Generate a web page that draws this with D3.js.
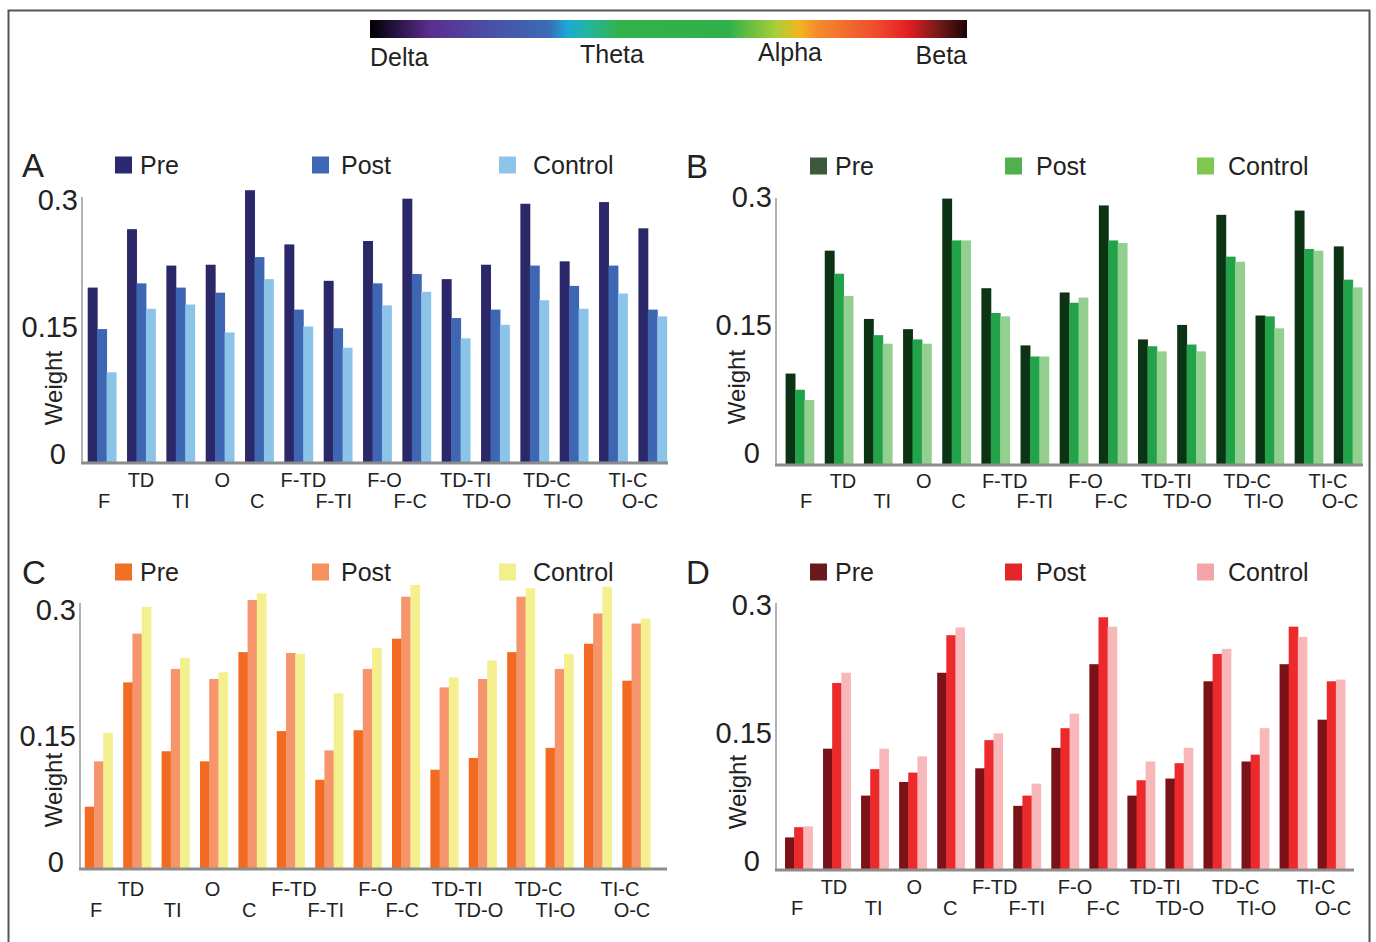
<!DOCTYPE html>
<html>
<head>
<meta charset="utf-8">
<script src="https://cdn.jsdelivr.net/npm/d3@7"></script>
<style>
  body { margin: 0; background: #fff; }
  text { font-family: "Liberation Sans", Arial, sans-serif; fill: #222; }
</style>
</head>
<body>
<div id="chart"></div>
<script>
// Connection regions on the x axis (staggered on two rows)
const regions = ["F", "TD", "TI", "O", "C", "F-TD", "F-TI", "F-O", "F-C", "TD-TI", "TD-O", "TD-C", "TI-O", "TI-C", "O-C"];
const seriesNames = ["Pre", "Post", "Control"];
const yTicks = [0, 0.15, 0.3];
const bandNames = ["Delta", "Theta", "Alpha", "Beta"];

// Delta band (panel A)
const deltaPre     = [0.206, 0.275, 0.232, 0.233, 0.321, 0.257, 0.214, 0.261, 0.311, 0.216, 0.233, 0.305, 0.237, 0.307, 0.276];
const deltaPost    = [0.157, 0.211, 0.206, 0.200, 0.242, 0.180, 0.158, 0.211, 0.222, 0.170, 0.180, 0.232, 0.208, 0.232, 0.180];
const deltaControl = [0.106, 0.181, 0.186, 0.153, 0.216, 0.160, 0.135, 0.185, 0.201, 0.146, 0.162, 0.191, 0.181, 0.199, 0.172];

// Theta band (panel B)
const thetaPre     = [0.106, 0.250, 0.170, 0.158, 0.311, 0.206, 0.139, 0.201, 0.303, 0.146, 0.163, 0.292, 0.174, 0.297, 0.255];
const thetaPost    = [0.087, 0.223, 0.151, 0.146, 0.262, 0.177, 0.126, 0.189, 0.262, 0.138, 0.140, 0.243, 0.173, 0.252, 0.216];
const thetaControl = [0.075, 0.197, 0.141, 0.141, 0.262, 0.173, 0.126, 0.195, 0.259, 0.132, 0.132, 0.237, 0.159, 0.250, 0.207];

// Alpha band (panel C)
const alphaPre     = [0.073, 0.221, 0.139, 0.127, 0.257, 0.163, 0.105, 0.164, 0.273, 0.117, 0.131, 0.257, 0.143, 0.267, 0.223];
const alphaPost    = [0.127, 0.279, 0.237, 0.225, 0.319, 0.256, 0.140, 0.237, 0.323, 0.215, 0.225, 0.323, 0.237, 0.303, 0.291];
const alphaControl = [0.161, 0.311, 0.250, 0.233, 0.327, 0.255, 0.208, 0.262, 0.337, 0.227, 0.247, 0.333, 0.255, 0.335, 0.297];

// Beta band (panel D)
const betaPre      = [0.037, 0.141, 0.086, 0.102, 0.230, 0.118, 0.074, 0.142, 0.240, 0.086, 0.106, 0.220, 0.126, 0.240, 0.175];
const betaPost     = [0.049, 0.218, 0.117, 0.113, 0.274, 0.151, 0.086, 0.165, 0.295, 0.104, 0.124, 0.252, 0.134, 0.284, 0.220];
const betaControl  = [0.050, 0.230, 0.141, 0.132, 0.283, 0.159, 0.100, 0.182, 0.284, 0.126, 0.142, 0.258, 0.165, 0.272, 0.222];

const width = 1376, height = 942;
const svg = d3.select("#chart").append("svg")
  .attr("width", width)
  .attr("height", height);

// outer frame
svg.append("rect")
  .attr("x", 8.5).attr("y", 10.5)
  .attr("width", 1361).attr("height", 960)
  .attr("fill", "none").attr("stroke", "#555").attr("stroke-width", 2);

// frequency colour bar
const defs = svg.append("defs");
const grad = defs.append("linearGradient").attr("id", "bandGrad");
const stops = [
  [0, "#000000"], [0.03, "#1a0d2e"], [0.1, "#5b2e8f"], [0.2, "#4a4fa5"], [0.3, "#3a6cb5"],
  [0.33, "#1aa9d6"], [0.36, "#21b5a5"], [0.42, "#33b24a"], [0.6, "#30b04a"], [0.68, "#a8cf38"],
  [0.72, "#f3b421"], [0.75, "#f58b2b"], [0.85, "#ef4a2f"], [0.9, "#e61e25"], [0.95, "#7a1a1a"], [1, "#1a0505"]
];
grad.selectAll("stop").data(stops).enter().append("stop")
  .attr("offset", d => d[0])
  .attr("stop-color", d => d[1]);

svg.append("rect")
  .attr("x", 370).attr("y", 20)
  .attr("width", 597).attr("height", 18)
  .attr("fill", "url(#bandGrad)");

const bandLabelPos = [[370, 57, "start"], [612, 54, "middle"], [790, 52, "middle"], [967, 55, "end"]];
svg.selectAll(".band-label")
  .data(bandNames)
  .enter().append("text")
  .attr("class", "band-label")
  .attr("x", (d, i) => bandLabelPos[i][0])
  .attr("y", (d, i) => bandLabelPos[i][1])
  .attr("text-anchor", (d, i) => bandLabelPos[i][2])
  .attr("dominant-baseline", "central")
  .style("font-size", "25px")
  .text(d => d);

// panel layout
const panels = [
  { letter: "A", values: [deltaPre, deltaPost, deltaControl], colors: ["#2a2868", "#3e66b3", "#8cc3e9"],
    legendColors: ["#2b2872", "#3e67b5", "#8ec3ea"],
    axisX: 82, x0: 87.7, x1: 666.7, xEnd: 668, base: 462, h: 254, axisTop: 197, tickOff: -8,
    labUp: [141, 628], labLow: [104, 640],
    rowY: [480, 501], weight: [53, 388], legendY: 165, legendX: [115, 312, 499], textX: [140, 341, 533], letterX: 22 },
  { letter: "B", values: [thetaPre, thetaPost, thetaControl], colors: ["#0c3314", "#22a34a", "#93cf8f"],
    legendColors: ["#3b5a3b", "#50b04b", "#7ec850"],
    axisX: 776, x0: 785.6, x1: 1362, xEnd: 1363, base: 464, h: 256, axisTop: 198, tickOff: -11,
    labUp: [843, 1328], labLow: [806, 1340],
    rowY: [481, 501], weight: [736, 387], legendY: 166, legendX: [810, 1005, 1197], textX: [835, 1036, 1228], letterX: 686 },
  { letter: "C", values: [alphaPre, alphaPost, alphaControl], colors: ["#f26b22", "#f6956b", "#f4f08f"],
    legendColors: ["#f07024", "#f5925e", "#f3ef8a"],
    axisX: 80, x0: 84.8, x1: 650, xEnd: 667, base: 868, h: 252, axisTop: 603, tickOff: -6,
    labUp: [131, 620], labLow: [96, 632],
    rowY: [889, 910], weight: [53, 790], legendY: 572, legendX: [115, 312, 499], textX: [140, 341, 533], letterX: 22 },
  { letter: "D", values: [betaPre, betaPost, betaControl], colors: ["#7a1217", "#ec2a2c", "#f8b8ba"],
    legendColors: ["#6a1a1e", "#e3242b", "#f4a5a8"],
    axisX: 776, x0: 785, x1: 1345, xEnd: 1354, base: 869, h: 256, axisTop: 603, tickOff: -8,
    labUp: [834, 1316], labLow: [797, 1333],
    rowY: [887, 908], weight: [737, 792], legendY: 572, legendX: [810, 1005, 1197], textX: [835, 1036, 1228], letterX: 686 }
];

const upperLabels = regions.filter((d, i) => i % 2 === 1);
const lowerLabels = regions.filter((d, i) => i % 2 === 0);

panels.forEach(function(p) {
  const g = svg.append("g");

  const x = d3.scaleBand().domain(regions).range([p.x0, p.x1]).paddingInner(0.28).paddingOuter(0);
  const xs = d3.scaleBand().domain(seriesNames).range([0, x.bandwidth()]);
  const xUp = d3.scalePoint().domain(upperLabels).range(p.labUp);
  const xLow = d3.scalePoint().domain(lowerLabels).range(p.labLow);
  const y = d3.scaleLinear().domain([0, 0.3]).range([p.base, p.base - p.h]);

  // bars
  const rows = regions.map(function(r, i) {
    return seriesNames.map(function(s, j) { return { region: r, series: s, value: p.values[j][i], k: j }; });
  });
  g.selectAll(".grp")
    .data(rows)
    .enter().append("g")
    .selectAll("rect")
    .data(d => d)
    .enter().append("rect")
    .attr("x", d => x(d.region) + xs(d.series))
    .attr("y", d => y(d.value))
    .attr("width", xs.bandwidth() + 0.5)
    .attr("height", d => y(0) - y(d.value))
    .attr("fill", d => p.colors[d.k]);

  // axes lines
  g.append("line")
    .attr("x1", p.axisX).attr("x2", p.axisX)
    .attr("y1", p.axisTop).attr("y2", p.base)
    .attr("stroke", "#999").attr("stroke-width", 1.5);
  g.append("line")
    .attr("x1", p.axisX - 1).attr("x2", p.xEnd)
    .attr("y1", p.base + 1).attr("y2", p.base + 1)
    .attr("stroke", "#8c8c8c").attr("stroke-width", 3);

  // y tick labels
  g.selectAll(".ytick")
    .data(yTicks)
    .enter().append("text")
    .attr("x", d => d === 0 ? p.axisX - 16 : p.axisX - 4)
    .attr("y", d => y(d) + p.tickOff)
    .attr("text-anchor", "end")
    .attr("dominant-baseline", "central")
    .style("font-size", "29px")
    .text(d => d === 0 ? "0" : String(d));

  // x labels, staggered on two rows
  g.selectAll(".xlab-up")
    .data(upperLabels)
    .enter().append("text")
    .attr("x", d => xUp(d))
    .attr("y", p.rowY[0])
    .attr("text-anchor", "middle")
    .attr("dominant-baseline", "central")
    .style("font-size", "20px")
    .text(d => d);
  g.selectAll(".xlab-low")
    .data(lowerLabels)
    .enter().append("text")
    .attr("x", d => xLow(d))
    .attr("y", p.rowY[1])
    .attr("text-anchor", "middle")
    .attr("dominant-baseline", "central")
    .style("font-size", "20px")
    .text(d => d);

  // y axis title
  g.append("text")
    .attr("transform", "translate(" + p.weight[0] + "," + p.weight[1] + ") rotate(-90)")
    .attr("text-anchor", "middle")
    .attr("dominant-baseline", "central")
    .style("font-size", "24px")
    .text("Weight");

  // panel letter
  g.append("text")
    .attr("x", p.letterX).attr("y", p.legendY)
    .attr("dominant-baseline", "central")
    .style("font-size", "33px")
    .text(p.letter);

  // legend
  const leg = g.selectAll(".leg")
    .data(seriesNames)
    .enter().append("g");
  leg.append("rect")
    .attr("x", (d, i) => p.legendX[i])
    .attr("y", p.legendY - 8.5)
    .attr("width", 17).attr("height", 17)
    .attr("fill", (d, i) => p.legendColors[i]);
  leg.append("text")
    .attr("x", (d, i) => p.textX[i])
    .attr("y", p.legendY)
    .attr("dominant-baseline", "central")
    .style("font-size", "25px")
    .text(d => d);
});
</script>
</body>
</html>
